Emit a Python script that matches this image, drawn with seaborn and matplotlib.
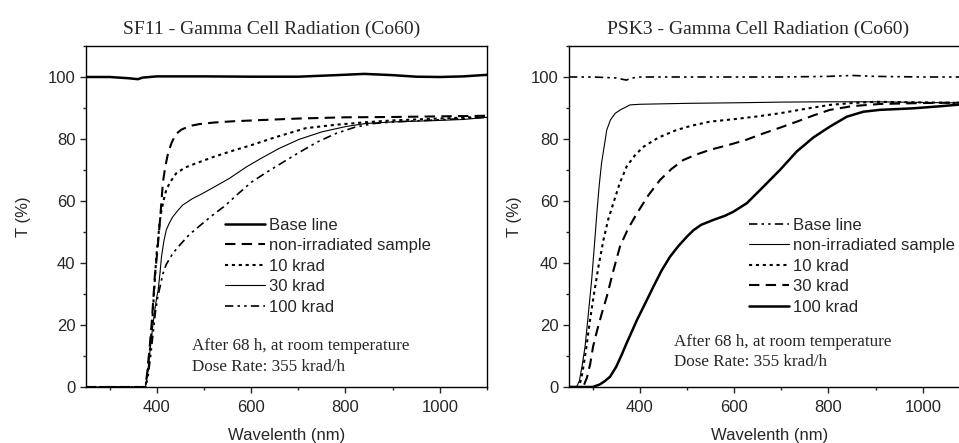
import numpy as np
import pandas as pd
import matplotlib
matplotlib.use("Agg")
import matplotlib.pyplot as plt
import seaborn as sns
from matplotlib.ticker import MultipleLocator

# ---------------------------------------------------------------
# SF11 - transmission (%) vs wavelength (nm)
# ---------------------------------------------------------------
sf11_base_wl = [250, 300, 340, 360, 370, 400, 500, 600, 700, 780, 840, 900, 950, 1000, 1050, 1100]
sf11_base_t = [100, 100, 99.6, 99.3, 99.8, 100.2, 100.2, 100.1, 100.1, 100.6, 101, 100.6, 100.1, 100, 100.2, 100.7]

sf11_non_wl = [250, 376, 380, 385, 389, 393, 396, 400, 403, 407, 410, 413, 418, 424, 431, 440,
               452, 470, 490, 520, 560, 620, 700, 800, 900, 1000, 1100]
sf11_non_t = [0, 0, 5, 13, 20, 29, 36, 42, 47, 54, 60, 66, 71, 75.5, 78.6, 81.5,
              83, 84.2, 84.8, 85.3, 85.7, 86.1, 86.6, 87, 87.1, 87.3, 87.5]

sf11_10_wl = [250, 376, 381, 386, 390, 394, 399, 403, 406, 410, 415, 420, 428, 441, 460, 484,
              520, 554, 600, 650, 716, 780, 843, 900, 1000, 1100]
sf11_10_t = [0, 0, 5, 13, 20, 30, 42, 48, 53, 57, 60.5, 63.5, 66, 68.9, 70.8, 72.2,
             74.2, 75.9, 78, 80.5, 83.5, 84.6, 85.4, 86, 86.6, 87.2]

sf11_30_wl = [250, 376, 381, 386, 391, 396, 400, 403, 407, 410, 415, 420, 427, 434, 445, 455,
              475, 498, 525, 554, 590, 624, 660, 702, 750, 800, 843, 900, 983, 1050, 1100]
sf11_30_t = [0, 0, 5, 12, 19, 25, 29, 31.3, 37, 42, 47, 50.6, 53, 54.9, 57, 58.7,
             60.7, 62.5, 64.8, 67.3, 71, 74, 77, 79.9, 82.3, 84, 85, 85.5, 85.9, 86.3, 87]

sf11_100_wl = [250, 377, 382, 387, 392, 397, 402, 408, 413, 420, 434, 450, 470, 495, 519, 545,
               570, 600, 630, 660, 700, 740, 780, 820, 860, 900, 1000, 1100]
sf11_100_t = [0, 0, 4, 10, 17, 24, 29, 33, 36.5, 39.5, 43.1, 46, 49.3, 52.5, 55.5, 58.5,
              62, 66, 69, 71.8, 75.5, 79, 81.8, 83.8, 85, 85.5, 86.2, 87]

# ---------------------------------------------------------------
# PSK3
# ---------------------------------------------------------------
psk3_base_wl = [250, 300, 350, 365, 372, 380, 400, 500, 600, 700, 800, 850, 900, 1000, 1100]
psk3_base_t = [100, 100, 99.7, 99.2, 99.0, 99.6, 100, 100, 100, 100, 100.2, 100.5, 100.2, 100, 100]

psk3_non_wl = [250, 266, 272, 278, 284, 290, 298, 304, 309, 314, 319, 325, 330, 338, 348, 360,
               372, 379, 400, 500, 613, 700, 800, 900, 1000, 1100]
psk3_non_t = [0, 0, 2, 7, 13, 22, 34.5, 46, 56, 65, 72.2, 78, 82.9, 86.2, 88.3, 89.5,
              90.4, 91, 91.2, 91.5, 91.7, 91.9, 92, 92, 91.8, 91.6]

psk3_10_wl = [250, 270, 276, 281, 287, 294, 302, 312, 323, 333, 344, 357, 372, 390, 408, 440,
              478, 510, 549, 600, 650, 697, 750, 803, 850, 900, 1000, 1100]
psk3_10_t = [0, 0, 2.5, 7, 13, 21, 29.1, 38.5, 47.4, 54, 59.3, 65.5, 71.1, 74.8, 77.5, 80.5,
             82.9, 84.3, 85.6, 86.4, 87.3, 88.3, 89.7, 91, 91.6, 92, 91.8, 91.6]

psk3_30_wl = [250, 280, 288, 295, 301, 310, 320, 330, 344, 358, 375, 394, 418, 443, 467, 492,
              520, 549, 591, 625, 662, 700, 733, 770, 803, 850, 909, 1000, 1100]
psk3_30_t = [0, 0, 3, 7.5, 13, 18.5, 24, 29.1, 37.5, 45.3, 51, 56, 61.8, 66.8, 70.3, 73.2,
             75, 76.5, 78.2, 79.7, 81.8, 83.8, 85.6, 87.7, 89.4, 90.6, 91.3, 91.6, 91.8]

psk3_100_wl = [250, 300, 315, 325, 337, 350, 362, 372, 380, 394, 410, 429, 446, 464, 482, 500,
               514, 530, 556, 580, 598, 627, 662, 697, 733, 768, 803, 839, 874, 909, 980, 1040, 1100]
psk3_100_t = [0, 0, 0.8, 1.8, 3.3, 6.5, 10.5, 14.1, 16.8, 21.6, 26.5, 32.4, 37.5, 42, 45.5, 48.5,
              50.6, 52.3, 53.9, 55.2, 56.5, 59.3, 64.6, 70, 76, 80.5, 84, 87.2, 88.8, 89.4, 89.9, 90.6, 91.4]

labels = ["Base line", "non-irradiated sample", "10 krad", "30 krad", "100 krad"]

# line styles
solid = "-"
dashed = (0, (5, 3))
dotted = (0, (1.5, 1.8))
dashdotdot = (0, (5, 2.5, 1.5, 2.5, 1.5, 2.5))

sns.set_style("ticks")
plt.rcParams["font.family"] = ["Liberation Sans", "DejaVu Sans"]

fig = plt.figure(figsize=(9.59, 4.43), dpi=100)
ax1 = fig.add_axes([86 / 959, 56 / 443, 401 / 959, 341 / 443])
ax2 = fig.add_axes([569 / 959, 56 / 443, 401 / 959, 341 / 443])

panels = [
    (ax1, "SF11 - Gamma Cell Radiation (Co60)", 0.464,
     [(sf11_base_wl, sf11_base_t, solid, 1.8),
      (sf11_non_wl, sf11_non_t, dashed, 1.5),
      (sf11_10_wl, sf11_10_t, dotted, 1.5),
      (sf11_30_wl, sf11_30_t, solid, 0.8),
      (sf11_100_wl, sf11_100_t, dashdotdot, 1.2)],
     (0.347, 0.497), (0.265, 0.090), 12),
    (ax2, "PSK3 - Gamma Cell Radiation (Co60)", 0.471,
     [(psk3_base_wl, psk3_base_t, dashdotdot, 1.2),
      (psk3_non_wl, psk3_non_t, solid, 0.8),
      (psk3_10_wl, psk3_10_t, dotted, 1.5),
      (psk3_30_wl, psk3_30_t, dashed, 1.5),
      (psk3_100_wl, psk3_100_t, solid, 1.8)],
     (0.448, 0.497), (0.262, 0.102), 6),
]

for ax, title, title_x, series, leg_pos, note_pos, ypad in panels:
    for (wl, t, ls, lw), lab in zip(series, labels):
        df = pd.DataFrame({"wl": wl, "t": t})
        sns.lineplot(data=df, x="wl", y="t", ax=ax, color="black",
                     linestyle=ls, linewidth=lw, label=lab)
    ax.set_xlim(250, 1100)
    ax.set_ylim(0, 110)
    ax.xaxis.set_major_locator(MultipleLocator(200))
    ax.xaxis.set_minor_locator(MultipleLocator(100))
    ax.yaxis.set_minor_locator(MultipleLocator(10))
    ax.set_yticks([0, 20, 40, 60, 80, 100])
    ax.tick_params(which="major", direction="out", length=4, width=1, labelsize=12,
                   top=False, right=False)
    ax.tick_params(axis="x", which="major", pad=5)
    ax.tick_params(which="minor", direction="out", length=2.5, width=1,
                   top=False, right=False)
    for sp in ax.spines.values():
        sp.set_linewidth(1.0)
        sp.set_color("black")
        sp.set_visible(True)
    ax.set_xlabel("Wavelenth (nm)", fontsize=12, labelpad=10)
    ax.set_ylabel("T (%)", fontsize=12, labelpad=ypad)
    ax.set_title(title, fontsize=14, family="Liberation Serif", pad=9, x=title_x)
    ax.legend(loc="upper left", bbox_to_anchor=leg_pos, frameon=False,
              fontsize=12, handlelength=2.4, handletextpad=0.25,
              labelspacing=0.33, borderpad=0, borderaxespad=0)
    ax.text(note_pos[0], note_pos[1],
            "After 68 h, at room temperature\nDose Rate: 355 krad/h",
            transform=ax.transAxes, fontsize=12.3, family="Liberation Serif",
            ha="left", va="center", linespacing=1.38)

fig.savefig("out.png", dpi=100)
